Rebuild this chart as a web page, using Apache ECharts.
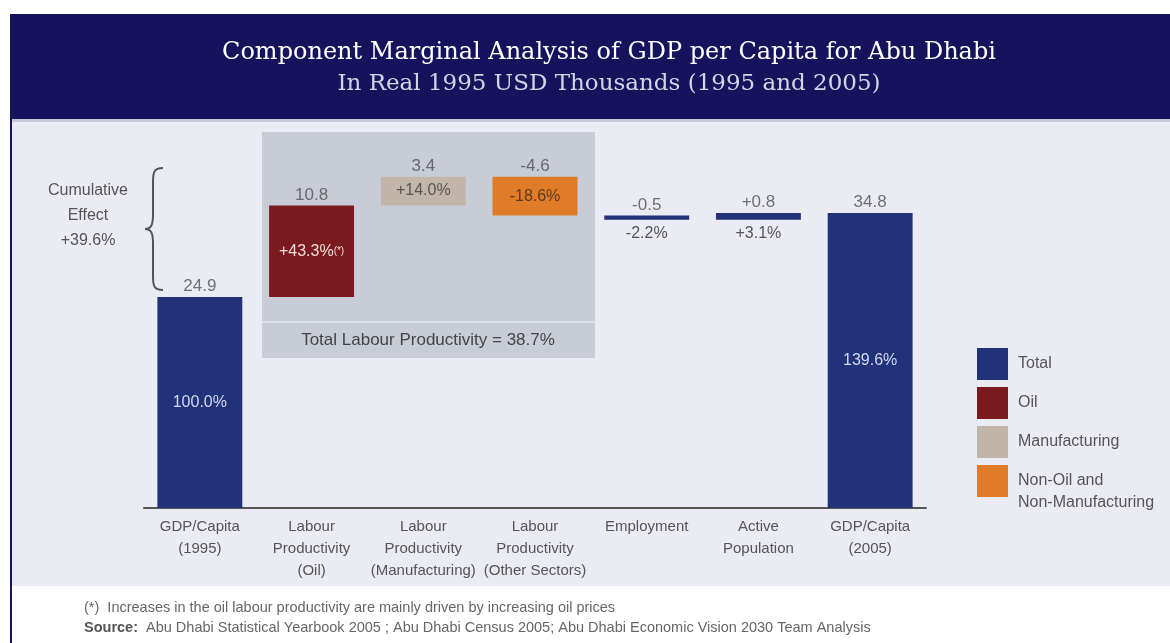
<!DOCTYPE html>
<html>
<head>
<meta charset="utf-8">
<script src="https://cdn.jsdelivr.net/npm/echarts@6/dist/echarts.min.js"></script>
<style>
html, body { margin: 0; padding: 0; background: #fff; }
#chart { width: 1170px; height: 643px; }
</style>
</head>
<body>
<div id="chart"></div>
<script>
// waterfall data (USD thousands, real 1995)
const categories = [
    'GDP/Capita\n(1995)',
    'Labour\nProductivity\n(Oil)',
    'Labour\nProductivity\n(Manufacturing)',
    'Labour\nProductivity\n(Other Sectors)',
    'Employment',
    'Active\nPopulation',
    'GDP/Capita\n(2005)'
];
const changes = [24.9, 10.8, 3.4, -4.6, -0.5, 0.8, 34.8];
const isTotal = [true, false, false, false, false, false, true];
const valueLabels = ['24.9', '10.8', '3.4', '-4.6', '-0.5', '+0.8', '34.8'];
const percentLabels = ['100.0%', '+43.3%', '+14.0%', '-18.6%', '-2.2%', '+3.1%', '139.6%'];
const component = ['Total', 'Oil', 'Manufacturing', 'Other', 'Total', 'Total', 'Total'];

const FONT = "'Liberation Sans Narrow', 'Liberation Sans', sans-serif";
const seriesDefs = [
    { key: 'Total', name: 'Total', color: '#21317a' },
    { key: 'Oil', name: 'Oil', color: '#7a1a1f' },
    { key: 'Manufacturing', name: 'Manufacturing', color: '#c2b6aa' },
    { key: 'Other', name: 'Non-Oil and Non-Manufacturing', color: '#e07c27' }
];

// running sums -> invisible base + visible height
var bases = [], heights = [], tops = [];
var running = 0;
for (var i = 0; i < changes.length; i++) {
    if (isTotal[i]) {
        bases.push(0);
        heights.push(changes[i]);
        running = changes[i];
    } else {
        var next = +(running + changes[i]).toFixed(1);
        bases.push(Math.min(running, next));
        heights.push(Math.abs(changes[i]));
        running = next;
    }
    tops.push(+(bases[i] + heights[i]).toFixed(1));
}

function labelFor(i) {
    var c = component[i];
    if (c === 'Total' && !isTotal[i]) {
        return { show: true, position: 'bottom', distance: 6, color: '#555', fontSize: 16 };
    }
    var col = { Total: '#d5d9ee', Oil: '#f2ddd6', Manufacturing: '#555', Other: '#5b3a22' }[c];
    return { show: true, position: 'inside', color: col, fontSize: 16 };
}

var series = [{
    name: 'base',
    type: 'bar',
    stack: 'wf',
    barWidth: '76%',
    itemStyle: { color: 'transparent' },
    silent: true,
    data: bases
}];
seriesDefs.forEach(function (d) {
    series.push({
        name: d.name,
        type: 'bar',
        stack: 'wf',
        barWidth: '76%',
        itemStyle: { color: d.color },
        label: {
            fontFamily: FONT,
            formatter: function (p) {
                var t = percentLabels[p.dataIndex];
                return component[p.dataIndex] === 'Oil' ? t + '{s|(*)}' : t;
            },
            rich: { s: { fontSize: 10, color: '#f2ddd6', fontFamily: FONT } }
        },
        data: heights.map(function (h, i) {
            return component[i] === d.key ? { value: h, label: labelFor(i) } : '-';
        })
    });
});
series.push({
    name: 'values',
    type: 'scatter',
    symbolSize: 0,
    silent: true,
    label: {
        show: true,
        position: 'top',
        distance: 2,
        color: '#505050',
        fontSize: 17,
        fontFamily: FONT,
        formatter: function (p) { return valueLabels[p.dataIndex]; }
    },
    data: tops
});

var brace = { stroke: '#555', lineWidth: 2, fill: null };
var legendText = { color: '#555', fontSize: 16, lineHeight: 22, fontFamily: FONT, padding: [0, 0, 0, 5] };

var chart = echarts.init(document.getElementById('chart'));
chart.setOption({
    animation: false,
    textStyle: { fontFamily: FONT },
    title: {
        text: 'Component Marginal Analysis of GDP per Capita for Abu Dhabi',
        subtext: 'In Real 1995 USD Thousands (1995 and 2005)',
        left: 604,
        top: 36,
        textAlign: 'center',
        itemGap: 8,
        textStyle: { color: '#ffffff', fontFamily: "'DejaVu Serif', serif", fontSize: 24, fontWeight: 'normal' },
        subtextStyle: { color: '#d4d4e6', fontFamily: "'DejaVu Serif', serif", fontSize: 23 }
    },
    graphic: [
        { type: 'rect', z: -10, shape: { x: 10, y: 14, width: 1160, height: 106 }, style: { fill: '#16135c' } },
        { type: 'rect', z: -10, shape: { x: 10, y: 120, width: 1160, height: 466 }, style: { fill: '#ebebf4' } },
        { type: 'rect', z: -9, shape: { x: 10, y: 119, width: 1160, height: 3 }, style: { fill: '#c9c9dc' } },
        { type: 'rect', z: -9, shape: { x: 10, y: 14, width: 2, height: 629 }, style: { fill: '#16135c' } },
        // labour productivity box
        { type: 'rect', z: -8, shape: { x: 262, y: 132, width: 333, height: 226 }, style: { fill: '#c8ccd7' } },
        { type: 'rect', z: -7, shape: { x: 262, y: 321, width: 333, height: 2 }, style: { fill: '#dde0e8' } },
        { type: 'text', style: { text: 'Total Labour Productivity = 38.7%', x: 428, y: 340, textAlign: 'center', textVerticalAlign: 'middle', fill: '#444', fontSize: 17, fontFamily: FONT } },
        // cumulative effect brace
        { type: 'bezierCurve', shape: { x1: 163, y1: 168, cpx1: 154, cpy1: 168, cpx2: 153, cpy2: 172, x2: 153, y2: 182 }, style: brace },
        { type: 'line', shape: { x1: 153, y1: 182, x2: 153, y2: 215 }, style: brace },
        { type: 'bezierCurve', shape: { x1: 153, y1: 215, cpx1: 153, cpy1: 225, cpx2: 151, cpy2: 229, x2: 145, y2: 229 }, style: brace },
        { type: 'bezierCurve', shape: { x1: 145, y1: 229, cpx1: 151, cpy1: 229, cpx2: 153, cpy2: 233, x2: 153, y2: 243 }, style: brace },
        { type: 'line', shape: { x1: 153, y1: 243, x2: 153, y2: 276 }, style: brace },
        { type: 'bezierCurve', shape: { x1: 153, y1: 276, cpx1: 153, cpy1: 286, cpx2: 154, cpy2: 290, x2: 163, y2: 290 }, style: brace },
        { type: 'text', style: { text: 'Cumulative\nEffect\n+39.6%', x: 88, y: 216, textAlign: 'center', textVerticalAlign: 'middle', fill: '#555', fontSize: 16, lineHeight: 25, fontFamily: FONT } },
        // footnotes
        { type: 'text', style: { text: '(*)  Increases in the oil labour productivity are mainly driven by increasing oil prices', x: 84, y: 608, textVerticalAlign: 'middle', fill: '#666', fontSize: 14.5, fontFamily: FONT } },
        { type: 'text', style: { text: '{b|Source:}  Abu Dhabi Statistical Yearbook 2005 ; Abu Dhabi Census 2005; Abu Dhabi Economic Vision 2030 Team Analysis', x: 84, y: 628, textVerticalAlign: 'middle', fill: '#666', fontSize: 14.5, fontFamily: FONT, rich: { b: { fontWeight: 'bold', fill: '#555', fontSize: 14.5, fontFamily: FONT } } } }
    ],
    legend: [{
        orient: 'vertical',
        left: 977,
        top: 348,
        padding: 0,
        icon: 'rect',
        itemWidth: 31,
        itemHeight: 32,
        itemGap: 7,
        data: seriesDefs.slice(0, 3).map(function (d) { return d.name; }),
        textStyle: legendText
    }, {
        orient: 'vertical',
        left: 977,
        top: 448,
        padding: 0,
        icon: 'rect',
        itemWidth: 31,
        itemHeight: 32,
        data: [seriesDefs[3].name],
        // blank first line keeps "Non-Oil and" level with the swatch
        formatter: function () { return '\nNon-Oil and\nNon-Manufacturing'; },
        textStyle: legendText
    }],
    grid: { left: 144, right: 244, top: 169, bottom: 135 },
    xAxis: {
        type: 'category',
        data: categories,
        axisLine: { lineStyle: { color: '#555', width: 2 } },
        axisTick: { show: false },
        axisLabel: { color: '#555', fontSize: 15, lineHeight: 22, margin: 8, interval: 0, fontFamily: FONT }
    },
    yAxis: {
        type: 'value',
        min: 0,
        max: 40,
        show: false,
        splitLine: { show: false }
    },
    series: series
});
</script>
</body>
</html>
